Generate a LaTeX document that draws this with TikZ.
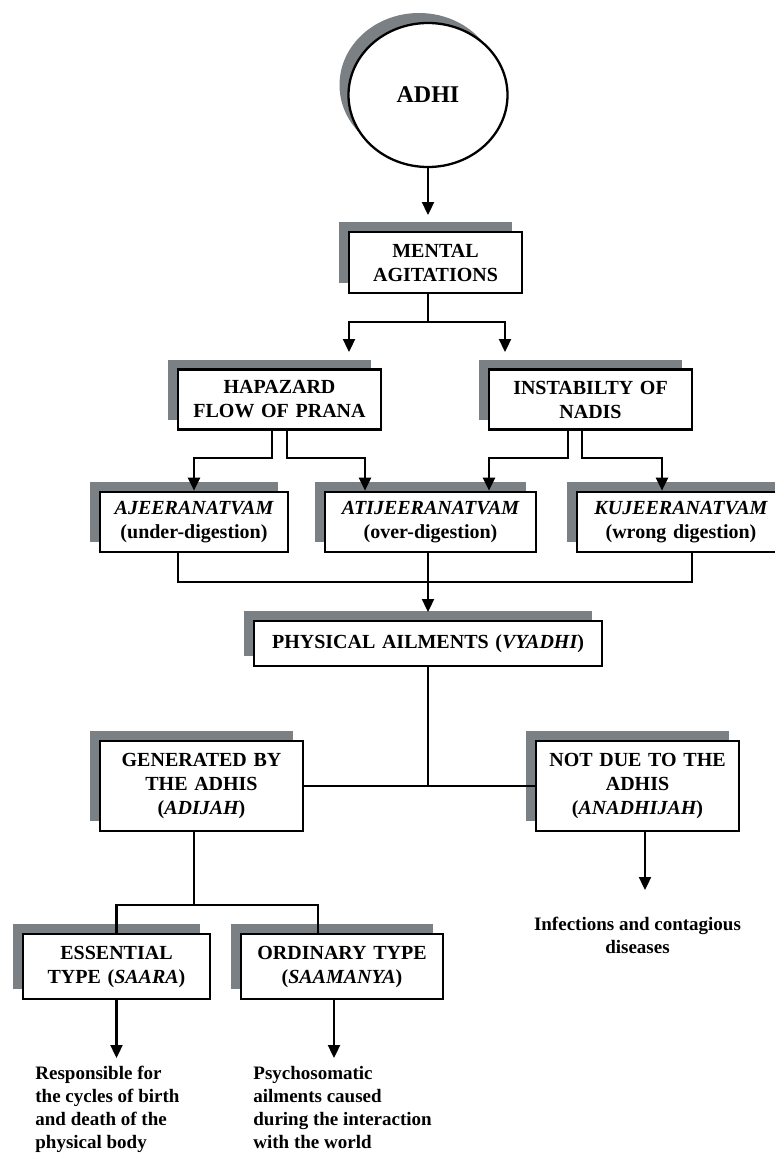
\documentclass[tikz,border=0pt]{standalone}
\usepackage{fontspec}
\setmainfont{Liberation Serif}
\usetikzlibrary{arrows.meta, shapes.geometric, shadows}
\definecolor{shadowgrey}{RGB}{122,128,132}
\tikzset{
  x=0.5pt, y=-0.5pt, % one unit is one pixel of the scan, y runs downwards
  every node/.style={font=\bfseries\fontsize{10}{12}\selectfont},
  stage/.style={rectangle, draw, line width=1.35pt, fill=white, align=center, inner sep=0pt,
    drop shadow={shadow xshift=-5pt, shadow yshift=5pt, opacity=1, fill=shadowgrey}}, % boxes with the grey block behind them
  note/.style={align=left, inner sep=0pt, font=\bfseries\fontsize{9.5}{11.5}\selectfont}, % plain text under the arrows
  link/.style={line width=1.15pt},
  arrow/.style={link, -{Triangle[length=6.5pt, width=6pt]}}
}

\begin{document}
\begin{tikzpicture}
    \useasboundingbox (0,0) rectangle (775,1157);
    \clip (0,0) rectangle (775,1157);

    \node[ellipse, draw, line width=1.15pt, fill=white, minimum width=79.5pt, minimum height=72pt,
      drop shadow={shadow xshift=-4.5pt, shadow yshift=5pt, opacity=1, fill=shadowgrey},
      font=\bfseries\fontsize{12}{14}\selectfont] (adhi) at (428,95) {ADHI};

    \node[stage, text width=86.5pt, minimum height=30.5pt, node distance=83.75pt, below of=adhi, xshift=3.75pt] (mental) {MENTAL\\AGITATIONS};

    \node[stage, text width=101.5pt, minimum height=30pt, node distance=68.5pt, below of=mental, xshift=-78pt] (hapazard) {HAPAZARD\\FLOW OF PRANA};
    \node[stage, text width=101.5pt, minimum height=30pt, node distance=155.5pt, right of=hapazard] (instability) {INSTABILTY OF\\NADIS};

    \node[stage, text width=94pt, minimum height=30pt, node distance=61.25pt, below of=hapazard, xshift=-42.75pt] (ajee) {{\itshape AJEERANATVAM}\\(under-digestion)};
    \node[stage, text width=105.5pt, minimum height=30pt, node distance=118.25pt, right of=ajee] (atijee) {{\itshape ATIJEERANATVAM}\\(over-digestion)};
    \node[stage, text width=104pt, minimum height=30pt, node distance=125.25pt, right of=atijee] (kujee) {{\itshape KUJEERANATVAM}\\(wrong digestion)};

    \node[stage, text width=174pt, minimum height=22.5pt, node distance=60.75pt, below of=atijee, xshift=-1.25pt] (physical) {PHYSICAL AILMENTS ({\itshape VYADHI})};

    \node[stage, text width=101.5pt, minimum height=45pt, node distance=71.25pt, below of=physical, xshift=-113.25pt] (generated) {GENERATED BY\\THE ADHIS\\({\itshape ADIJAH})};
    \node[stage, text width=101.5pt, minimum height=45pt, node distance=218pt, right of=generated] (notdue) {NOT DUE TO THE\\ADHIS\\({\itshape ANADHIJAH})};
    \node[note, align=center, node distance=74.5pt, below of=notdue] (infections) {Infections and contagious\\diseases};

    \node[stage, text width=93.5pt, minimum height=32.5pt, node distance=90.25pt, below of=generated, xshift=-42.5pt] (essential) {ESSENTIAL\\TYPE ({\itshape SAARA})};
    \node[stage, text width=101pt, minimum height=32.5pt, node distance=112.75pt, right of=essential] (ordinary) {ORDINARY TYPE\\({\itshape SAAMANYA})};

    \node[note, node distance=49.75pt, below of=essential, xshift=-40.75pt, anchor=north west] (saara_note) {Responsible for\\the cycles of birth\\and death of the\\physical body};
    \node[note, node distance=49.75pt, below of=ordinary, xshift=-44.5pt, anchor=north west] (saamanya_note) {Psychosomatic\\ailments caused\\during the interaction\\with the world};

    \coordinate (adhi_out) at (428,215);
    \coordinate (mental_split) at (428,322);
    \coordinate (hapazard_in) at (349,352);
    \coordinate (instability_in) at (505,352);
    \coordinate (ajee_bend) at (194,458);
    \coordinate (atijee_bend_left) at (365,458);
    \coordinate (atijee_bend_right) at (489,458);
    \coordinate (kujee_bend) at (662,458);
    \coordinate (collect_right) at (692,582);
    \coordinate (physical_in) at (428,612);
    \coordinate (notdue_out) at (645,890);
    \coordinate (generated_split) at (194,905);
    \coordinate (ordinary_bend) at (318,905);
    \coordinate (essential_out) at (116.5,1058);
    \coordinate (ordinary_out) at (334,1058);

    \draw[arrow] (adhi) -- (adhi_out);
    \draw[link] (mental.south -| adhi) -- (mental_split);
    \draw[arrow] (mental_split) -| (hapazard_in);
    \draw[arrow] (mental_split) -| (instability_in);

    \draw[arrow] ([xshift=-3.75pt]hapazard.south) |- (ajee_bend) -- (ajee_bend |- ajee.north);
    \draw[arrow] ([xshift=3.75pt]hapazard.south) |- (atijee_bend_left) -- (atijee_bend_left |- atijee.north);
    \draw[arrow] ([xshift=-11.25pt]instability.south) |- (atijee_bend_right) -- (atijee_bend_right |- atijee.north);
    \draw[arrow] ([xshift=-4.25pt]instability.south) |- (kujee_bend) -- (kujee_bend |- kujee.north);

    \draw[link] ([xshift=-8pt]ajee.south) |- (collect_right) -- ([xshift=5.5pt]kujee.south);
    \draw[arrow] (physical |- atijee.south) -- (physical_in);

    \draw[link] (physical.south) -- (physical.south |- generated.east);
    \draw[link] (generated.east) -- (notdue.west);
    \draw[arrow] ([xshift=3.75pt]notdue.south) -- (notdue_out);

    \draw[link] ([xshift=-3.75pt]generated.south) -- (generated_split);
    \draw[link] (essential.north) |- (ordinary_bend) -- (ordinary_bend |- ordinary.north);
    \draw[arrow] (essential.south) -- (essential_out);
    \draw[arrow] ([xshift=-4pt]ordinary.south) -- (ordinary_out);
\end{tikzpicture}
\end{document}
